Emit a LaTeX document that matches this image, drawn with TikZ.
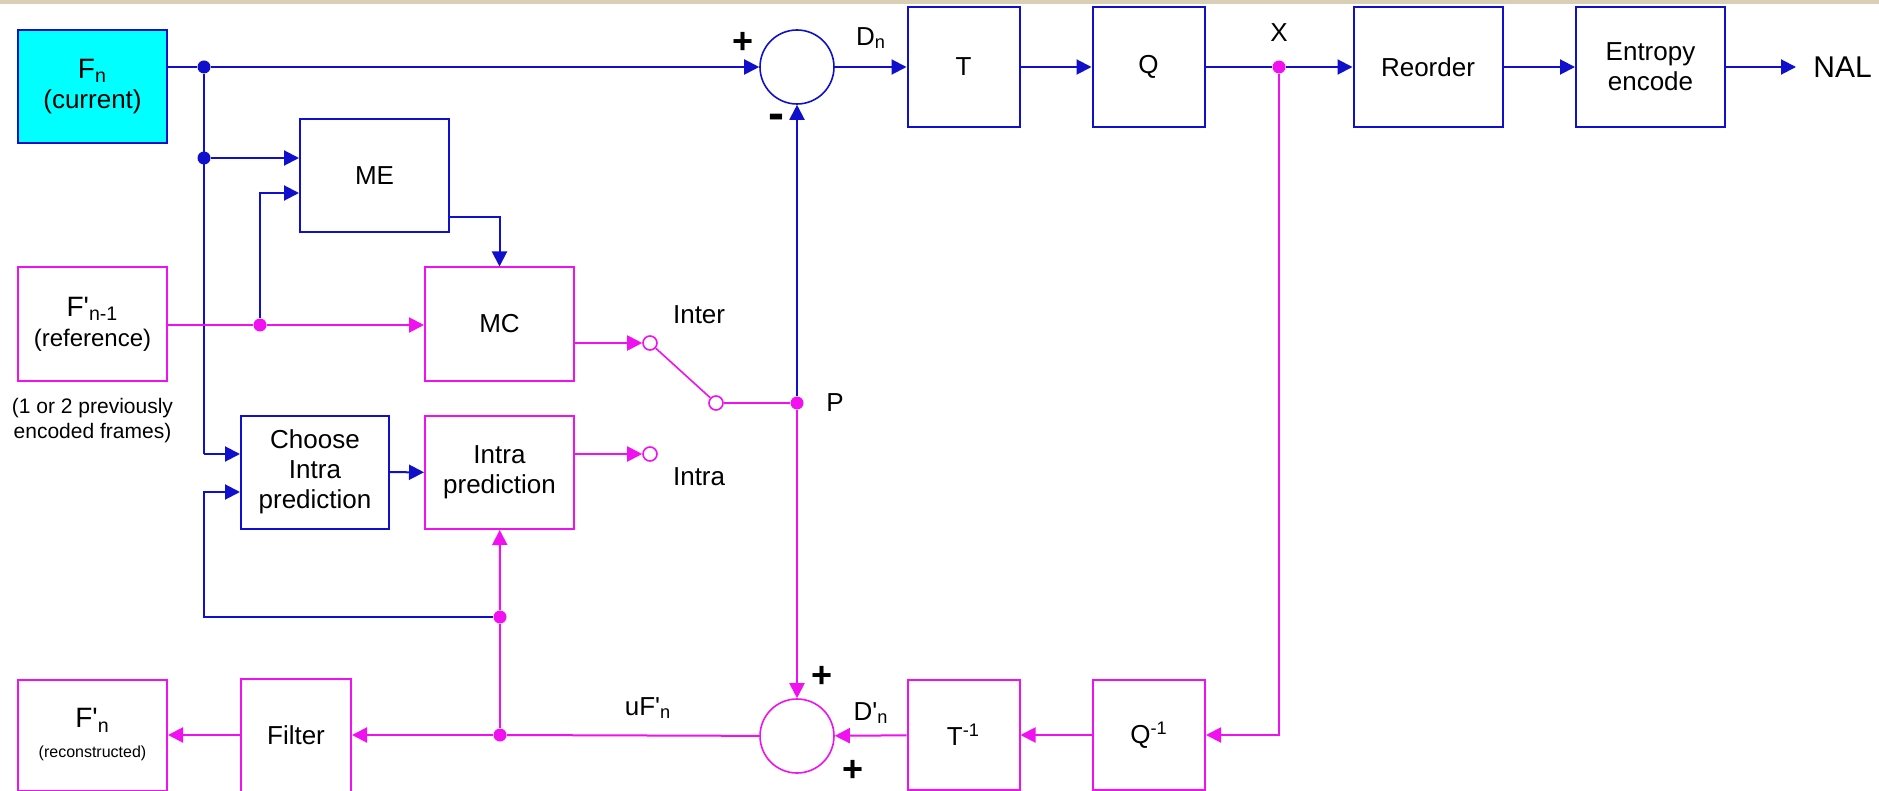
\documentclass[tikz,border=0pt]{standalone}
\usepackage{fontspec}
\setmainfont{Liberation Sans}
\usepackage{tikz}
\usetikzlibrary{arrows.meta}
\definecolor{PathBlue}{HTML}{1010CC}
\definecolor{PathPink}{HTML}{F010F0}
\definecolor{CurFill}{HTML}{00FFFF}
\definecolor{TopBand}{HTML}{D8CFB6}

\begin{document}
\begin{tikzpicture}[x=0.5pt, y=-0.5pt, font=\fontsize{13pt}{15pt}\selectfont,
  >={Triangle[length=7.5pt, width=7.5pt]},
  blkbox/.style={draw=PathBlue, line width=1pt, inner sep=0pt, align=center,
    minimum width=74.5pt, minimum height=56.5pt},
  pnkbox/.style={blkbox, draw=PathPink},
  smallbox/.style={minimum width=56pt},
  bwire/.style={PathBlue, line width=1pt},
  pwire/.style={PathPink, line width=1pt},
  blkdot/.style={circle, fill=PathBlue, inner sep=0pt, minimum size=6.5pt},
  pnkdot/.style={blkdot, fill=PathPink},
  sumring/.style={circle, line width=0.8pt, inner sep=0pt, minimum size=37pt},
  tapring/.style={circle, draw=PathPink, line width=0.8pt, inner sep=0pt, minimum size=7pt},
  signlbl/.style={font=\fontsize{18pt}{18pt}\selectfont\bfseries, inner sep=0pt}]
\fill[white] (0,0) rectangle (1879,791);
\fill[TopBand] (0,0) rectangle (1879,4);
\useasboundingbox (0,0) rectangle (1879,791);

\node[blkbox, fill=CurFill] (Fn) at (92.5,86.5)
  {{\fontsize{14pt}{14pt}\selectfont F\textsubscript{n}}\\(current)};
\node[blkbox] (ME) at (374.5,175.5) {ME};
\node[pnkbox] (Fref) at (92.5,324)
  {{\fontsize{14pt}{14pt}\selectfont F\textquotesingle\textsubscript{n-1}}\\{\fontsize{12pt}{14pt}\selectfont (reference)}};
\node[pnkbox] (MC) at (499.5,324) {MC};
\node[align=center, font=\fontsize{10.5pt}{12.5pt}\selectfont] (note) at (92.5,421)
  {(1 or 2 previously\\encoded frames)};
\node[blkbox, minimum width=74pt] (Choose) at (315,472) {Choose\\Intra\\prediction};
\node[pnkbox] (Intra) at (499.5,472.5) {Intra\\prediction};
\node[pnkbox, minimum height=55.5pt] (Frec) at (92.5,735)
  {{\fontsize{14pt}{14pt}\selectfont F\textquotesingle\textsubscript{n}}\\{\fontsize{8pt}{9pt}\selectfont (reconstructed)}};
\node[pnkbox, smallbox, minimum width=55pt] (Filter) at (296,735) {Filter};

\node[blkbox, smallbox, minimum height=60pt] (T) at (963.5,67) {T};
\node[blkbox, smallbox, minimum height=60pt] (Q) at (1148.5,67) {Q};
\node[blkbox, minimum height=60pt] (Reorder) at (1428,67) {Reorder};
\node[blkbox, minimum height=60pt] (Entropy) at (1650.5,67) {Entropy\\encode};
\node[pnkbox, smallbox, minimum height=55pt] (Ti) at (963.5,735) {T\textsuperscript{-1}};
\node[pnkbox, smallbox, minimum height=55pt] (Qi) at (1149,735) {Q\textsuperscript{-1}};

\node[sumring, draw=PathBlue] (sumA) at (797,67) {};
\node[sumring, draw=PathPink] (sumB) at (797,736) {};
\node[tapring] (tapInter) at (650,343) {};
\node[tapring] (tapIntra) at (650,454) {};
\node[tapring] (tapOut) at (716,403) {};

\node[blkdot] (j1) at (204,67) {};
\node[blkdot] (j2) at (204,158) {};
\node[pnkdot] (r1) at (260,325) {};
\node[pnkdot] (pdot) at (797,403) {};
\node[pnkdot] (xdot) at (1279,67) {};
\node[pnkdot] (u1) at (500,735) {};
\node[pnkdot] (u2) at (500,617) {};
\coordinate (c1) at (204,454);
\coordinate (c2) at (204,492);

\node[signlbl] (pA) at (743,43) {+};
\node[signlbl, font=\fontsize{24pt}{24pt}\selectfont\bfseries] (mA) at (776,122) {-};
\node[signlbl] (pB) at (822,677) {+};
\node[signlbl] (pC) at (853,771) {+};
\node (dn) at (871,38) {D\textsubscript{n}};
\node (xl) at (1279,33) {X};
\node[anchor=west, inner sep=0pt, font=\fontsize{15pt}{15pt}\selectfont] (nal) at (1813,67) {NAL};
\node (pl) at (835,403) {P};
\node[anchor=west] (interl) at (666,315) {Inter};
\node[anchor=west] (intral) at (666,477) {Intra};
\node (ufl) at (648,708) {uF\textquotesingle\textsubscript{n}};
\node (dnl) at (871,713) {D\textquotesingle\textsubscript{n}};

\draw[bwire] (Fn.east |- j1) -- (j1);
\draw[bwire, ->] (j1) -- (sumA);
\draw[bwire] (j1) -- (c1);
\draw[bwire, ->] (c1) -- (c1 -| Choose.west);
\draw[bwire, ->] (j2) -- (j2 -| ME.west);
\draw[bwire, ->] (r1) |- (ME.west |- 0,193);
\draw[bwire, ->] (ME.east |- 0,217) -| (MC.north);
\draw[bwire, ->] (pdot) -- (sumA);
\draw[bwire, ->] (sumA) -- (T);
\draw[bwire, ->] (T) -- (Q);
\draw[bwire] (Q) -- (xdot);
\draw[bwire, ->] (xdot) -- (Reorder);
\draw[bwire, ->] (Reorder) -- (Entropy);
\draw[bwire, ->, shorten >=8.5pt] (Entropy) -- (nal);
\draw[bwire, ->] (u2) -| (c2) -- (c2 -| Choose.west);
\draw[bwire, ->] (Choose) -- (Intra);

\draw[pwire] (Fref.east |- r1) -- (r1);
\draw[pwire, ->] (r1) -- (r1 -| MC.west);
\draw[pwire, ->] (MC.east |- tapInter) -- (tapInter);
\draw[pwire, ->] (Intra.east |- tapIntra) -- (tapIntra);
\draw[pwire, line width=0.8pt] (tapInter) -- (tapOut);
\draw[pwire] (tapOut) -- (pdot);
\draw[pwire, ->] (pdot) -- (sumB);
\draw[pwire, ->] (xdot) |- (Qi);
\draw[pwire, ->] (Qi) -- (Ti);
\draw[pwire, ->] (Ti) -- (sumB);
\draw[pwire] (sumB) -- (u1);
\draw[pwire, ->] (u1) -- (Filter);
\draw[pwire, ->] (Filter) -- (Frec);
\draw[pwire] (u1) -- (u2);
\draw[pwire, ->] (u2) -- (Intra);
\end{tikzpicture}
\end{document}
